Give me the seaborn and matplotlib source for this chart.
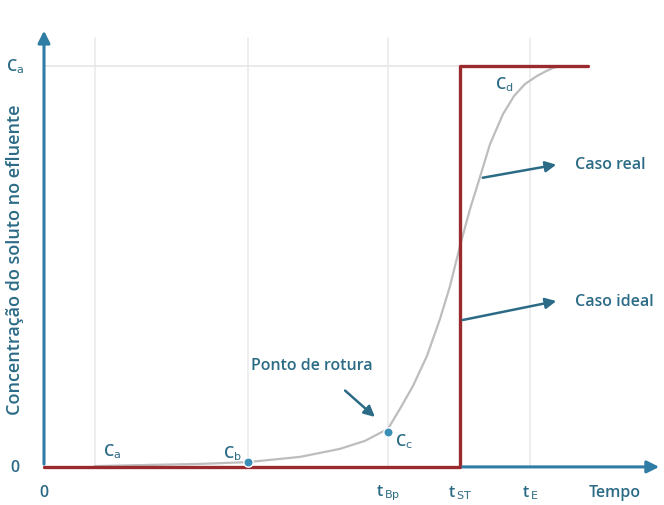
import numpy as np
import pandas as pd
import seaborn as sns
import matplotlib.pyplot as plt

# curva real (ruptura) - tempo em unidades arbitrarias, concentracao relativa a Ca
tempo_real = [5.1, 10.6, 15.6, 20.4, 25.6, 29.6, 32.1, 34.4, 35.6, 36.9, 38.3, 39.6,
              40.6, 41.6, 42.6, 43.6, 44.6, 45.9, 47.0, 48.1, 49.3, 50.2, 50.9, 51.6]
conc_real = [0.002, 0.005, 0.0075, 0.012, 0.025, 0.045, 0.065, 0.095, 0.145, 0.202, 0.277, 0.369,
             0.451, 0.551, 0.643, 0.723, 0.805, 0.880, 0.925, 0.955, 0.975, 0.987, 0.995, 1.0]

# caso ideal (degrau)
tempo_ideal = [0.0, 41.6, 41.6, 54.4]
conc_ideal = [0.0, 0.0, 1.0, 1.0]

# pontos marcados
pontos_t = [20.4, 34.4]
pontos_c = [0.012, 0.088]

grid_x = [5.1, 20.4, 34.4, 48.6]
tick_pos = [0.0, 34.4, 41.6, 48.6]
tick_lab = ["0", "t$_{\\,\\mathrm{Bp}}$", "t$_{\\,\\mathrm{ST}}$", "t$_{\\,\\mathrm{E}}$"]

azul = "#2f7da4"
texto = "#2c6b86"
vermelho = "#9b2a2e"
cinza = "#bdbdbd"


def main():
    sns.set_style("white")
    plt.rcParams["font.family"] = ["Open Sans", "DejaVu Sans"]

    fig = plt.figure(figsize=(6.64, 5.06), dpi=100)
    ax = fig.add_axes([0, 0, 1, 1])
    ax.set_xlim(-4.4, 62.0)
    ax.set_ylim(-0.095, 1.167)
    ax.axis("off")

    # grade leve
    for gx in grid_x:
        ax.plot([gx, gx], [0, 1.07], color="#ebebeb", lw=1.2, zorder=0)
    ax.plot([0, 54.4], [1.0, 1.0], color="#e6e6e6", lw=1.2, zorder=0)

    df_real = pd.DataFrame({"t": tempo_real, "c": conc_real})
    df_ideal = pd.DataFrame({"t": tempo_ideal, "c": conc_ideal})
    sns.lineplot(data=df_real, x="t", y="c", ax=ax, color=cinza, lw=1.6,
                 sort=False, estimator=None, zorder=2)
    sns.lineplot(data=df_ideal, x="t", y="c", ax=ax, color=vermelho, lw=2.4,
                 sort=False, estimator=None, zorder=4)

    # eixos com setas
    ax.annotate("", xy=(0, 1.095), xytext=(0, 0), zorder=5,
                arrowprops=dict(arrowstyle="-|>", color=azul, lw=2.2, mutation_scale=18))
    ax.annotate("", xy=(61.8, 0), xytext=(41.6, 0), zorder=5,
                arrowprops=dict(arrowstyle="-|>", color=azul, lw=2.2, mutation_scale=18))

    sns.scatterplot(x=pontos_t, y=pontos_c, ax=ax, color="#3a8fb7", s=45,
                    edgecolor="white", linewidth=1, zorder=6)

    fs = 11.5
    kw = dict(color=texto, fontsize=fs, fontweight="semibold")
    ax.text(-2.9, 1.0, "C$_\\mathrm{a}$", ha="center", va="center", **kw)
    ax.text(-2.9, 0.0, "0", ha="center", va="center", **kw)
    ax.text(-2.9, 0.519, "Concentração do soluto no efluente", rotation=90,
            ha="center", va="center", color=texto, fontsize=13, fontweight="semibold")
    for p, l in zip(tick_pos, tick_lab):
        ax.text(p, -0.063, l, ha="center", va="center", **kw)
    ax.text(57.1, -0.063, "Tempo", ha="center", va="center", **kw)

    ax.text(6.8, 0.04, "C$_\\mathrm{a}$", ha="center", va="center", **kw)
    ax.text(18.8, 0.035, "C$_\\mathrm{b}$", ha="center", va="center", **kw)
    ax.text(36.0, 0.065, "C$_\\mathrm{c}$", ha="center", va="center", **kw)
    ax.text(46.0, 0.955, "C$_\\mathrm{d}$", ha="center", va="center", **kw)
    ax.text(26.8, 0.255, "Ponto de rotura", ha="center", va="center", **kw)
    ax.text(53.1, 0.755, "Caso real", ha="left", va="center", **kw)
    ax.text(53.1, 0.415, "Caso ideal", ha="left", va="center", **kw)

    seta = dict(arrowstyle="-|>", color="#2c6b86", lw=1.8, mutation_scale=16)
    ax.annotate("", xy=(33.3, 0.12), xytext=(29.9, 0.195), arrowprops=seta, zorder=7)
    ax.annotate("", xy=(51.5, 0.755), xytext=(43.6, 0.72), arrowprops=seta, zorder=7)
    ax.annotate("", xy=(51.5, 0.415), xytext=(41.6, 0.365), arrowprops=seta, zorder=7)

    plt.savefig("out.png", dpi=100)
    plt.close()


if __name__ == "__main__":
    main()
